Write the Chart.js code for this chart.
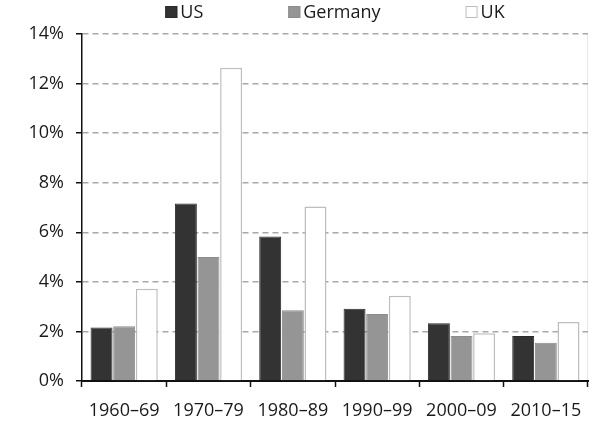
<!DOCTYPE html>
<html>
<head>
<meta charset="utf-8">
<script src="https://cdn.jsdelivr.net/npm/chart.js@4"></script>
<style>
    html, body { margin: 0; padding: 0; background: #FFFFFF; }
    #wrap { position: relative; width: 614px; height: 422px; }
</style>
</head>
<body>
<div id="wrap"><canvas id="growthChart" width="614" height="422"></canvas></div>
<script>
const periods = ['1960–69', '1970–79', '1980–89', '1990–99', '2000–09', '2010–15'];
const usValues = [2.16, 7.16, 5.83, 2.91, 2.33, 1.82];
const germanyValues = [2.21, 5.0, 2.85, 2.70, 1.82, 1.54];
const ukValues = [3.72, 12.64, 7.04, 3.44, 1.93, 2.38];
const yTicks = [0, 2, 4, 6, 8, 10, 12, 14];

document.addEventListener('DOMContentLoaded', () => {
    const canvas = document.getElementById('growthChart');
    const fontFamily = '"Open Sans", "Noto Sans", sans-serif';

    // legenda desenhada à mão: o Chart.js não deixa afastar os itens sem aumentar a altura
    const topLegend = {
        id: 'topLegend',
        afterDraw(chart) {
            const ctx = chart.ctx;
            const area = chart.chartArea;
            const box = 12, textGap = 3, itemGap = 85;
            ctx.save();
            ctx.font = '18px ' + fontFamily;
            ctx.textBaseline = 'middle';
            const items = chart.data.datasets.map(ds => ({
                label: ds.label,
                fill: ds.backgroundColor,
                stroke: ds.borderColor,
                w: box + textGap + ctx.measureText(ds.label).width
            }));
            const total = items.reduce((s, it) => s + it.w, 0) + itemGap * (items.length - 1);
            let x = (area.left + area.right) / 2 - total / 2;
            const y = 12;
            items.forEach(it => {
                ctx.fillStyle = it.fill;
                ctx.fillRect(x, y - box / 2, box, box);
                ctx.lineWidth = 1;
                ctx.strokeStyle = it.stroke;
                ctx.strokeRect(x + 0.5, y - box / 2 + 0.5, box - 1, box - 1);
                ctx.fillStyle = '#1A1A1A';
                ctx.fillText(it.label, x + box + textGap, y + 1);
                x += it.w + itemGap;
            });
            ctx.restore();
        }
    };

    new Chart(canvas, {
        type: 'bar',
        data: {
            labels: periods,
            datasets: [
                { label: 'US', data: usValues, backgroundColor: '#333333', borderColor: '#2A2A2A', borderWidth: 1 },
                { label: 'Germany', data: germanyValues, backgroundColor: '#959595', borderColor: '#8C8C8C', borderWidth: 1 },
                { label: 'UK', data: ukValues, backgroundColor: '#FFFFFF', borderColor: '#BDBDBD', borderWidth: 1.5 }
            ]
        },
        options: {
            responsive: false,
            animation: false,
            layout: { padding: { top: 34, right: 26, bottom: 0, left: 0 } },
            datasets: { bar: { categoryPercentage: 0.805, barPercentage: 0.97 } },
            plugins: {
                legend: { display: false },
                tooltip: { enabled: false }
            },
            scales: {
                x: {
                    afterFit: (scale) => { scale.height = 41; },
                    ticks: { color: '#1A1A1A', font: { family: fontFamily, size: 18 }, padding: 13, maxRotation: 0 },
                    grid: {
                        drawOnChartArea: true,
                        color: (c) => c.index === undefined ? '#E8E8E8' : 'rgba(0,0,0,0)',
                        tickColor: '#111111',
                        tickLength: 6,
                        tickWidth: 1.5
                    },
                    border: { color: '#111111', width: 2 }
                },
                y: {
                    min: 0,
                    max: 14,
                    afterFit: (scale) => { scale.width = 82; },
                    afterBuildTicks: (scale) => { scale.ticks = yTicks.map(v => ({ value: v })); },
                    ticks: {
                        color: '#1A1A1A',
                        font: { family: fontFamily, size: 18 },
                        padding: 12,
                        callback: (v) => v + '%'
                    },
                    grid: {
                        color: (c) => c.tick && c.tick.value === 0 ? 'rgba(0,0,0,0)' : '#A8A8A8',
                        lineWidth: 1.5,
                        tickColor: '#111111',
                        tickLength: 6,
                        tickWidth: 1.5
                    },
                    border: { color: '#111111', width: 1.5, dash: [6, 4] }
                }
            }
        },
        plugins: [topLegend]
    });
});
</script>
</body>
</html>
